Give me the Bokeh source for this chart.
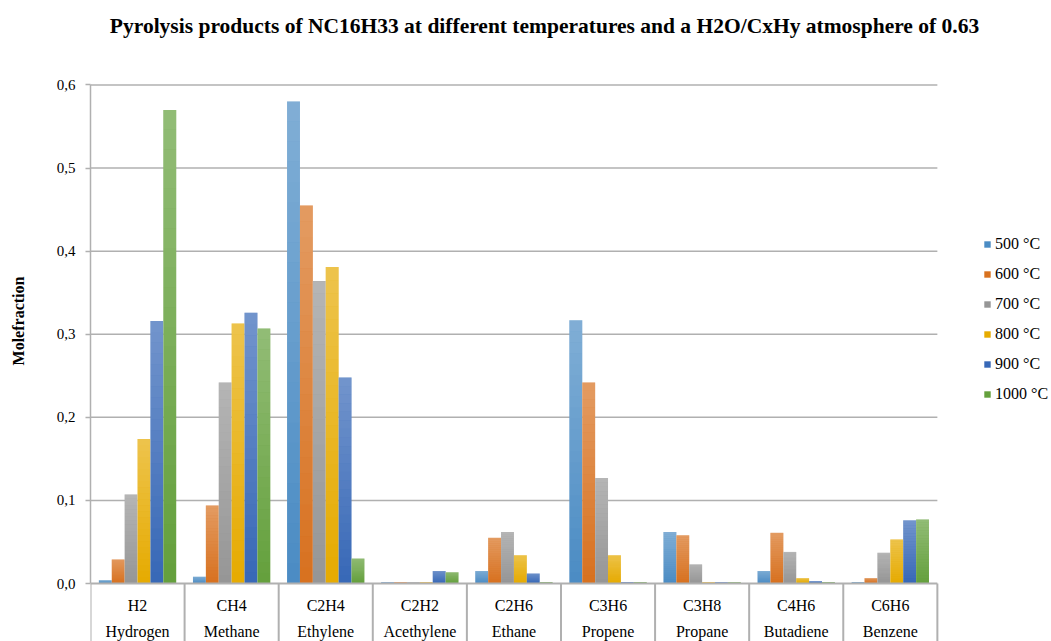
from bokeh.plotting import figure
from bokeh.models import (ColumnDataSource, Range1d, FixedTicker,
                          CustomJSTickFormatter, Legend, LegendItem)
from bokeh.core.properties import value
from bokeh.embed import file_html
from bokeh.resources import INLINE

# ---- data -------------------------------------------------------------
title_text = ("Pyrolysis products of NC16H33 at different temperatures "
              "and a H2O/CxHy atmosphere of 0.63")
formulas = ["H2", "CH4", "C2H4", "C2H2", "C2H6", "C3H6", "C3H8", "C4H6", "C6H6"]
names = ["Hydrogen", "Methane", "Ethylene", "Acethylene", "Ethane",
         "Propene", "Propane", "Butadiene", "Benzene"]
temperatures = ["500 °C", "600 °C", "700 °C", "800 °C", "900 °C", "1000 °C"]

t500 = [0.004, 0.008, 0.580, 0.0015, 0.015, 0.317, 0.062, 0.015, 0.0016]
t600 = [0.029, 0.094, 0.455, 0.0015, 0.055, 0.242, 0.058, 0.061, 0.0064]
t700 = [0.107, 0.242, 0.364, 0.0015, 0.062, 0.127, 0.023, 0.038, 0.037]
t800 = [0.174, 0.313, 0.381, 0.0015, 0.034, 0.034, 0.0015, 0.0064, 0.053]
t900 = [0.316, 0.326, 0.248, 0.015, 0.012, 0.0016, 0.0015, 0.0028, 0.076]
t1000 = [0.570, 0.307, 0.030, 0.0135, 0.0016, 0.0016, 0.0015, 0.0016, 0.077]
series = [t500, t600, t700, t800, t900, t1000]

y_ticks = [0.0, 0.1, 0.2, 0.3, 0.4, 0.5, 0.6]

# ---- styling ----------------------------------------------------------
colors = ["#4B8CC4", "#D8711F", "#969696", "#E6AB00", "#3768B7", "#64A03C"]
FONT = "Liberation Serif"
GRID = "#B0B0B0"
BAR_W = 0.137
N_SLICES = 24

p = figure(width=1051, height=641,
           x_range=Range1d(0, 10.213), y_range=Range1d(-0.0698, 0.7017),
           output_backend="svg", toolbar_location=None,
           x_axis_location=None,
           min_border_left=90, min_border_right=0,
           min_border_top=0, min_border_bottom=0)
p.outline_line_color = None
p.xgrid.visible = False
p.ygrid.visible = False
p.background_fill_color = "white"

n_cat = len(formulas)

# horizontal gridlines (above zero)
grid_src = ColumnDataSource(dict(x0=[0] * (len(y_ticks) - 1),
                                 x1=[n_cat] * (len(y_ticks) - 1),
                                 y=y_ticks[1:]))
p.segment(x0="x0", y0="y", x1="x1", y1="y", source=grid_src,
          line_color=GRID, line_width=1.5)

# category separators below the axis
bounds = list(range(n_cat + 1))
sep_src = ColumnDataSource(dict(x=bounds, y0=[0] * len(bounds),
                                y1=[-0.0698] * len(bounds)))
p.segment(x0="x", y0="y0", x1="x", y1="y1", source=sep_src,
          line_color=GRID, line_width=2)

# bars
renderers = []
ov_l, ov_r, ov_b, ov_t, ov_a = [], [], [], [], []
for i, vals in enumerate(series):
    xs = [c + 0.5 + (i - 2.5) * BAR_W for c in range(n_cat)]
    src = ColumnDataSource(dict(x=xs, top=vals))
    r = p.vbar(x="x", top="top", bottom=0, width=BAR_W, source=src,
               fill_color=colors[i], line_color=None)
    renderers.append(r)
    # light-to-dark shading: white wash that fades toward the bottom
    for x, v in zip(xs, vals):
        for k in range(N_SLICES):
            ov_l.append(x - BAR_W / 2)
            ov_r.append(x + BAR_W / 2)
            ov_b.append(v * k / N_SLICES)
            ov_t.append(v * (k + 1) / N_SLICES)
            ov_a.append(0.30 * (k + 0.5) / N_SLICES)

ov_src = ColumnDataSource(dict(left=ov_l, right=ov_r, bottom=ov_b,
                               top=ov_t, alpha=ov_a))
p.quad(left="left", right="right", bottom="bottom", top="top",
       source=ov_src, fill_color="white", fill_alpha="alpha", line_color=None)

# category axis line
p.segment(x0=[0], y0=[0], x1=[n_cat], y1=[0], line_color=GRID, line_width=2)

# category labels (two rows)
lab_src = ColumnDataSource(dict(x=[c + 0.5 for c in range(n_cat)],
                                f=formulas, n=names,
                                y1=[-0.0260] * n_cat, y2=[-0.0580] * n_cat))
p.text(x="x", y="y1", text="f", source=lab_src, text_font=value(FONT),
       text_font_size="16px", text_align="center", text_baseline="middle",
       text_color="black")
p.text(x="x", y="y2", text="n", source=lab_src, text_font=value(FONT),
       text_font_size="16px", text_align="center", text_baseline="middle",
       text_color="black")

# chart title
p.text(x=[4.825], y=[0.6716], text=[title_text], text_font=value(FONT),
       text_font_size="21.5px", text_font_style="bold", text_align="center",
       text_baseline="middle", text_color="black")

# y axis
ax = p.yaxis[0]
ax.ticker = FixedTicker(ticks=y_ticks)
ax.formatter = CustomJSTickFormatter(code="return tick.toFixed(1).replace('.', ',');")
ax.bounds = (0, 0.6)
ax.axis_line_color = GRID
ax.axis_line_width = 1.5
ax.major_tick_line_color = GRID
ax.major_tick_line_width = 1.5
ax.major_tick_out = 5
ax.major_tick_in = 0
ax.minor_tick_out = 0
ax.minor_tick_in = 0
ax.major_label_text_font = FONT
ax.major_label_text_font_size = "15px"
ax.major_label_text_color = "black"
ax.major_label_standoff = 10
ax.axis_label = "Molefraction"
ax.axis_label_text_font = FONT
ax.axis_label_text_font_size = "16px"
ax.axis_label_text_font_style = "bold"
ax.axis_label_text_color = "black"
ax.axis_label_standoff = 27

# legend
legend = Legend(items=[LegendItem(label=t, renderers=[r])
                       for t, r in zip(temperatures, renderers)],
                location=(893, 237))
legend.label_text_font = FONT
legend.label_text_font_size = "16px"
legend.label_text_color = "black"
legend.glyph_width = 8
legend.glyph_height = 8
legend.label_standoff = 4
legend.spacing = 10
legend.label_height = 20
legend.padding = 0
legend.margin = 0
legend.border_line_color = None
legend.background_fill_alpha = 0
p.add_layout(legend)

open("out.html", "w").write(file_html(p, INLINE))
